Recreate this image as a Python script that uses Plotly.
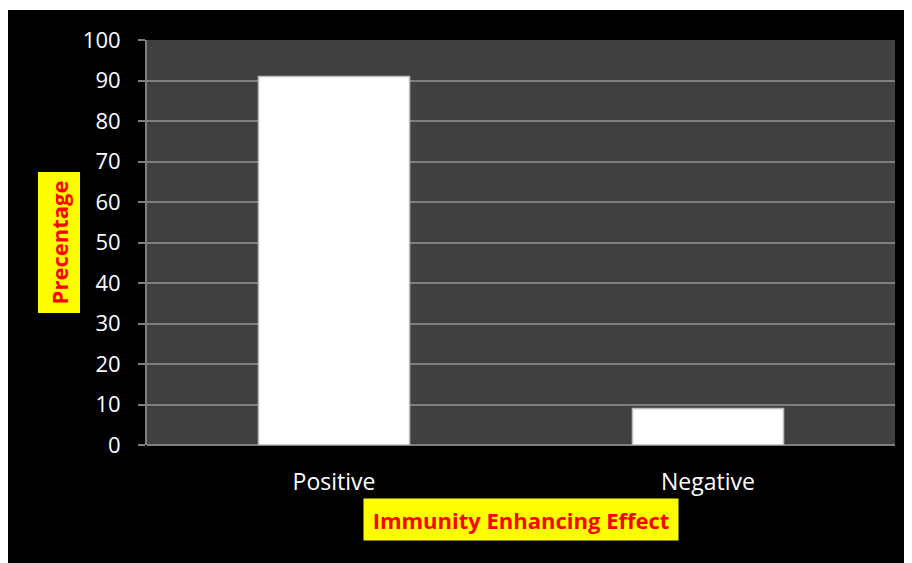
import plotly.graph_objects as go

categories = ["Positive", "Negative"]
values = [91, 9]
y_ticks = [0, 10, 20, 30, 40, 50, 60, 70, 80, 90, 100]

# page is offset by the 8px body margin
OX, OY = 8, 8
W, H = 912, 563
# target plot area in page pixels
PL, PR, PT, PB = 147, 895, 40, 445
L = PL - OX
R = W - (PR - OX)
T = PT - OY
B = H - (PB - OY)
pw, ph = W - L - R, H - T - B

def px_x(px):
    return (px - OX - L) / pw

def px_y(py):
    return (H - B - (py - OY)) / ph

fig = go.Figure()
fig.add_trace(go.Bar(
    x=categories, y=values,
    marker=dict(color="#ffffff", line=dict(color="#bdbdbd", width=1.5)),
    width=0.404,
    hoverinfo="skip",
))

font_family = "Open Sans, Liberation Sans, sans-serif"

fig.update_layout(
    width=W, height=H,
    margin=dict(l=L, r=R, t=T, b=B, pad=0),
    paper_bgcolor="#000000",
    plot_bgcolor="#404040",
    showlegend=False,
    font=dict(family=font_family, color="#ffffff", size=22),
    xaxis=dict(
        showgrid=False, zeroline=False, showline=False,
        ticks="outside", ticklen=16, tickcolor="rgba(0,0,0,0)",
        tickfont=dict(size=23, color="#ffffff"),
    ),
    yaxis=dict(
        range=[0, 100], tickvals=y_ticks,
        showgrid=True, gridcolor="#7f7f7f", gridwidth=2,
        zeroline=True, zerolinecolor="#7f7f7f", zerolinewidth=2,
        showline=True, linecolor="#7f7f7f", linewidth=2,
        ticks="outside", ticklen=7, tickcolor="#7f7f7f", tickwidth=2,
        ticklabelstandoff=13,
        tickfont=dict(size=22, color="#ffffff"),
    ),
    shapes=[
        dict(type="rect", xref="paper", yref="paper",
             x0=px_x(0), x1=px_x(W + 20), y0=px_y(10), y1=px_y(0),
             fillcolor="#ffffff", line=dict(width=0), layer="above"),
    ],
    annotations=[
        dict(text="<b>Precentage</b>", xref="paper", yref="paper",
             x=px_x(58.5), y=px_y(243), xanchor="center", yanchor="middle",
             showarrow=False, textangle=-90, bgcolor="#ffff00",
             width=136, height=37, borderpad=2,
             font=dict(family=font_family, size=22, color="#ff0000")),
        dict(text="<b>Immunity Enhancing Effect</b>", xref="paper", yref="paper",
             x=px_x(521), y=px_y(519.5), xanchor="center", yanchor="middle",
             showarrow=False, bgcolor="#ffff00",
             width=310, height=37, borderpad=2,
             font=dict(family=font_family, size=22, color="#ff0000")),
    ],
)

fig.write_html("out.html")
